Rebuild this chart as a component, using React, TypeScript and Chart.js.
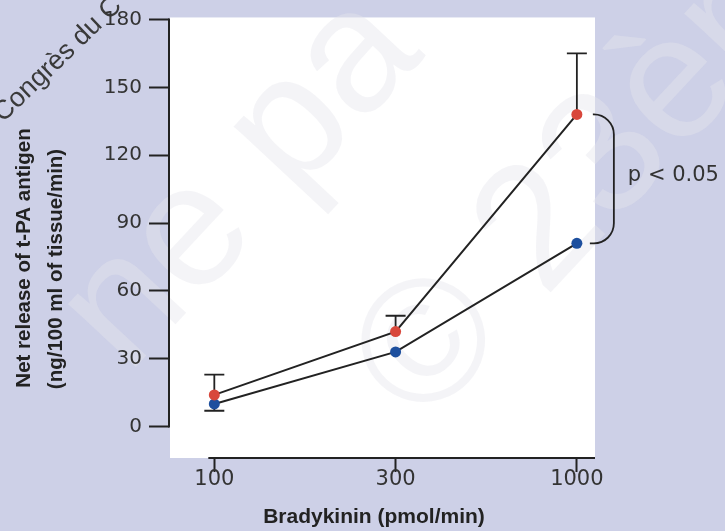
import React, { useEffect, useRef } from "react";
import { Chart, registerables } from "chart.js";

Chart.register(...registerables);

const categories = ["100", "300", "1000"];
const yTicks = [0, 30, 60, 90, 120, 150, 180];
const redValues = [14, 42, 138];
const redErrUpper = [23, 49, 165];
const blueValues = [10, 33, 81];
const blueErrLower = [7, null, null];
const xTitle = "Bradykinin (pmol/min)";
const yTitle1 = "Net release of t-PA antigen";
const yTitle2 = "(ng/100 ml of tissue/min)";
const pText = "p < 0.05";
const watermark = "Congrès du C";
const bigMark1 = "ne pa";
const bigMark2 = "© 23ème";

const LAVENDER = "#cdd0e7";
const RED = "#d8473b";
const BLUE = "#1d4f9e";
const INK = "#222222";
const TXT = "#333333";

export default function App() {
  const ref = useRef<HTMLCanvasElement | null>(null);

  useEffect(() => {
    document.body.style.margin = "0";
    const canvas = ref.current!;
    const decor = {
      id: "decor",
      beforeDraw(chart: any) {
        const { ctx, chartArea, scales } = chart;
        const ys = scales.y;
        const top = ys.getPixelForValue(yTicks[yTicks.length - 1]) - 2;
        ctx.save();
        ctx.fillStyle = LAVENDER;
        ctx.fillRect(0, 0, chart.width, chart.height);
        ctx.fillStyle = "#ffffff";
        ctx.fillRect(chartArea.left + 1, top, chartArea.right - chartArea.left - 1, chartArea.bottom - top);
        // faint large watermark
        const ang = (-47 * Math.PI) / 180;
        ctx.fillStyle = "rgba(228,228,236,0.42)";
        ctx.font = "175px 'Liberation Sans', Arial, sans-serif";
        ctx.save();
        ctx.translate(244, 185);
        ctx.rotate(ang);
        ctx.textAlign = "center";
        ctx.textBaseline = "alphabetic";
        ctx.fillText(bigMark1, 0, 45);
        ctx.restore();
        ctx.save();
        ctx.translate(379, 387);
        ctx.rotate(ang);
        ctx.textAlign = "left";
        ctx.textBaseline = "alphabetic";
        ctx.fillText(bigMark2, 0, 61);
        ctx.restore();
        // dark watermark text
        ctx.save();
        ctx.translate(3, 123);
        ctx.rotate((-44 * Math.PI) / 180);
        ctx.fillStyle = "#3a3a3a";
        ctx.font = "27px 'Liberation Sans', Arial, sans-serif";
        ctx.textAlign = "left";
        ctx.textBaseline = "alphabetic";
        ctx.fillText(watermark, 0, 0);
        ctx.restore();
        ctx.restore();
      },
      beforeDatasetsDraw(chart: any) {
        const { ctx, scales, chartArea } = chart;
        const xs = scales.x;
        const ys = scales.y;
        ctx.save();
        ctx.strokeStyle = INK;
        ctx.lineWidth = 2;
        // y spine
        ctx.beginPath();
        ctx.moveTo(chartArea.left, ys.getPixelForValue(yTicks[0]) + 1);
        ctx.lineTo(chartArea.left, ys.getPixelForValue(yTicks[yTicks.length - 1]) - 1);
        ctx.stroke();
        // x spine
        ctx.beginPath();
        ctx.moveTo(xs.getPixelForValue(0) - 6, chartArea.bottom);
        ctx.lineTo(chartArea.right, chartArea.bottom);
        ctx.stroke();
        // error bars
        ctx.lineWidth = 1.8;
        const cap = 10;
        const bar = (i: number, v: number, e: number) => {
          const x = xs.getPixelForValue(i);
          const y0 = ys.getPixelForValue(v);
          const y1 = ys.getPixelForValue(e);
          ctx.beginPath();
          ctx.moveTo(x, y0);
          ctx.lineTo(x, y1);
          ctx.moveTo(x - cap, y1);
          ctx.lineTo(x + cap, y1);
          ctx.stroke();
        };
        redErrUpper.forEach((e, i) => {
          if (e != null) bar(i, redValues[i], e);
        });
        blueErrLower.forEach((e, i) => {
          if (e != null) bar(i, blueValues[i], e);
        });
        ctx.restore();
      },
      afterDraw(chart: any) {
        const { ctx, scales } = chart;
        const xs = scales.x;
        const ys = scales.y;
        ctx.save();
        // brace
        const last = categories.length - 1;
        const xp = xs.getPixelForValue(last);
        const yTop = ys.getPixelForValue(redValues[last]);
        const yBot = ys.getPixelForValue(blueValues[last]);
        const x0 = xp + 16;
        const xv = xp + 37;
        const r = 20;
        ctx.strokeStyle = INK;
        ctx.lineWidth = 1.8;
        ctx.beginPath();
        ctx.moveTo(x0, yTop);
        ctx.arcTo(xv, yTop, xv, yTop + r, r);
        ctx.lineTo(xv, yBot - r);
        ctx.arcTo(xv, yBot, xv - r, yBot, r);
        ctx.lineTo(x0 - 3, yBot);
        ctx.stroke();
        ctx.fillStyle = TXT;
        ctx.font = "21px 'DejaVu Sans', sans-serif";
        ctx.textAlign = "left";
        ctx.textBaseline = "middle";
        ctx.fillText(pText, xp + 51, (yTop + yBot) / 2 - 3);
        // x title
        ctx.font = "bold 21px 'Liberation Sans', Arial, sans-serif";
        ctx.textAlign = "center";
        ctx.textBaseline = "middle";
        ctx.fillStyle = INK;
        ctx.fillText(xTitle, 374, 517);
        // y title
        const yt = (t: string, x: number, y: number) => {
          ctx.save();
          ctx.translate(x, y);
          ctx.rotate(-Math.PI / 2);
          ctx.font = "bold 20.5px 'Liberation Sans', Arial, sans-serif";
          ctx.textAlign = "center";
          ctx.textBaseline = "alphabetic";
          ctx.fillText(t, 0, 0);
          ctx.restore();
        };
        yt(yTitle1, 30, 258);
        yt(yTitle2, 62, 269);
        ctx.restore();
      },
    };

    const chart = new Chart(canvas, {
      type: "line",
      data: {
        datasets: [
          {
            label: "red",
            data: redValues.map((v, i) => ({ x: i, y: v })),
            borderColor: INK,
            borderWidth: 2,
            pointRadius: 5.5,
            pointBackgroundColor: RED,
            pointBorderColor: RED,
            pointBorderWidth: 0,
            tension: 0,
          },
          {
            label: "blue",
            data: blueValues.map((v, i) => ({ x: i, y: v })),
            borderColor: INK,
            borderWidth: 2,
            pointRadius: 5.5,
            pointBackgroundColor: BLUE,
            pointBorderColor: BLUE,
            pointBorderWidth: 0,
            tension: 0,
          },
        ],
      },
      options: {
        animation: false,
        responsive: false,
        events: [],
        layout: { padding: { left: 0, top: 0, right: 130, bottom: 0 } },
        plugins: { legend: { display: false }, tooltip: { enabled: false } },
        scales: {
          x: {
            type: "linear",
            min: -0.25,
            max: 2.1,
            afterBuildTicks: (s: any) => {
              s.ticks = categories.map((_, i) => ({ value: i }));
            },
            afterFit: (s: any) => {
              s.height = 73;
            },
            ticks: {
              autoSkip: false,
              maxRotation: 0,
              padding: -5,
              color: TXT,
              font: { family: "'DejaVu Sans', sans-serif", size: 21 },
              callback: (v: any) => categories[v],
            },
            grid: {
              display: true,
              drawOnChartArea: false,
              drawTicks: true,
              tickLength: 14,
              tickColor: INK,
              tickWidth: 2,
              color: INK,
            },
            border: { display: false },
          },
          y: {
            type: "linear",
            min: -13.9,
            max: 180.2,
            afterBuildTicks: (s: any) => {
              s.ticks = yTicks.map((v) => ({ value: v }));
            },
            afterFit: (s: any) => {
              s.width = 169;
            },
            ticks: {
              padding: 7,
              color: TXT,
              font: { family: "'DejaVu Sans', sans-serif", size: 20 },
            },
            grid: {
              display: true,
              drawOnChartArea: false,
              drawTicks: true,
              tickLength: 20,
              tickColor: INK,
              tickWidth: 2,
              color: INK,
            },
            border: { display: false },
          },
        },
      },
      plugins: [decor],
    });
    return () => chart.destroy();
  }, []);

  return (
    <div style={{ position: "fixed", left: 0, top: 0 }}>
      <canvas ref={ref} width={725} height={531} style={{ display: "block" }} />
    </div>
  );
}
